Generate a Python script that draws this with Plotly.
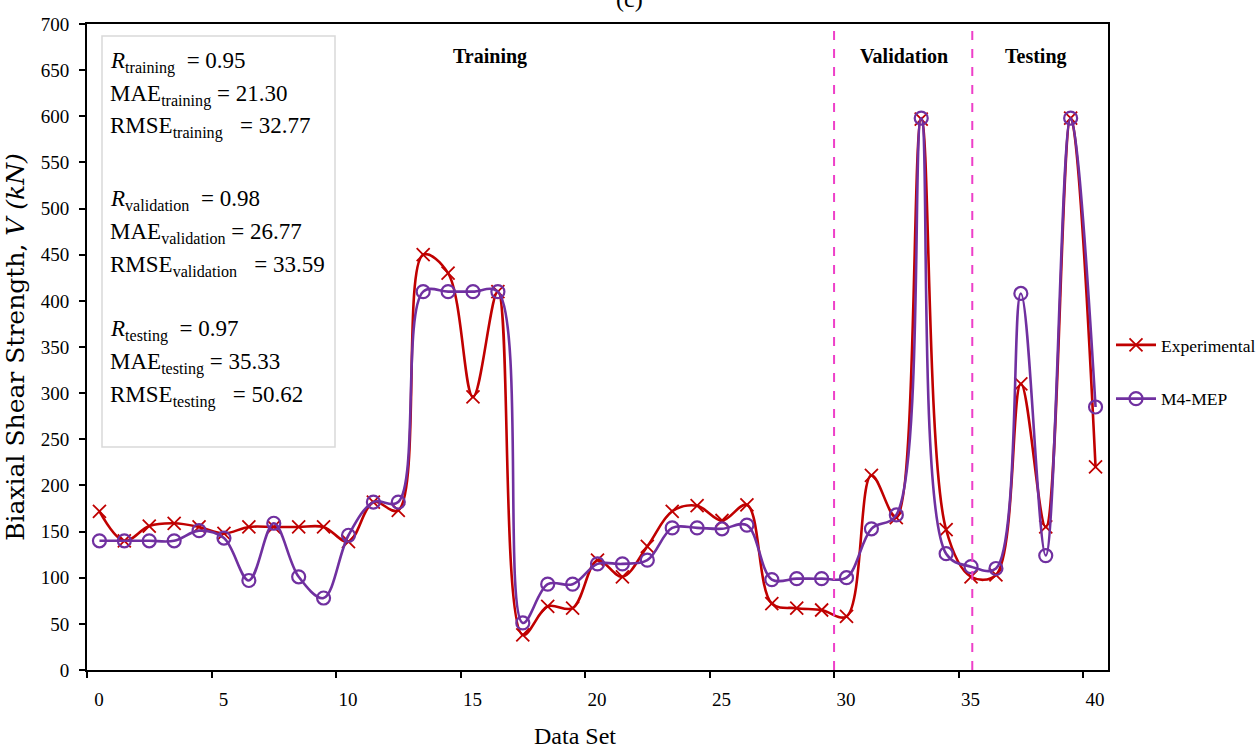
import plotly.graph_objects as go

# ---------------- data ----------------
data_set = list(range(41))
experimental = [172, 140, 156, 159, 155, 148, 155, 155, 155, 155,
                139, 182, 173, 450, 430, 296, 410, 38, 69, 67,
                119, 101, 134, 172, 178, 162, 179, 72, 67, 65,
                58, 211, 165, 597, 152, 101, 103, 310, 155, 598,
                220]
m4_mep = [140, 140, 140, 140, 151, 143, 97, 159, 101, 78,
          146, 182, 182, 410, 410, 410, 410, 51, 93, 93,
          115, 115, 119, 154, 154, 153, 157, 98, 99, 99,
          100, 153, 168, 598, 126, 112, 110, 408, 124, 598,
          285]
x_tick_values = [0, 5, 10, 15, 20, 25, 30, 35, 40]
x_tick_labels = [str(v) for v in x_tick_values]
section_bounds = [29.5, 35.05]
section_names = ["Training", "Validation", "Testing"]
section_label_x = [15.7, 32.3, 37.6]
stats_lines = [
    "<i>R</i><sub>training</sub>\u00a0 = 0.95",
    "MAE<sub>training</sub> = 21.30",
    "RMSE<sub>training</sub>\u00a0\u00a0 = 32.77",
    "<i>R</i><sub>validation</sub>\u00a0 = 0.98",
    "MAE<sub>validation</sub> = 26.77",
    "RMSE<sub>validation</sub>\u00a0\u00a0 = 33.59",
    "<i>R</i><sub>testing</sub>\u00a0 = 0.97",
    "MAE<sub>testing</sub> = 35.33",
    "RMSE<sub>testing</sub>\u00a0\u00a0 = 50.62",
]

SERIF = "Liberation Serif, Times New Roman, serif"
RED = "#C00000"
PURPLE = "#7030A0"
MAGENTA = "#EE3FC8"

W, H = 1256, 749
L, R, T, B = 87, 148, 24, 79
PW, PH = W - L - R, H - T - B

def px_x(p):
    return (p - L) / PW

def px_y(p):
    return (H - B - p) / PH

fig = go.Figure()
fig.add_trace(go.Scatter(
    x=data_set, y=experimental, name="Experimental", mode="lines+markers",
    line=dict(color=RED, width=2.6, shape="spline", smoothing=1.0),
    marker=dict(symbol="x-thin", size=13, color=RED, line=dict(color=RED, width=1.8)),
    legendgroup="a",
))
fig.add_trace(go.Scatter(
    x=data_set, y=m4_mep, name="M4-MEP", mode="lines+markers",
    line=dict(color=PURPLE, width=2.6, shape="spline", smoothing=1.0),
    marker=dict(symbol="circle-open", size=13, color=PURPLE, line=dict(color=PURPLE, width=2.2)),
    legendgroup="b",
))

shapes = []
for xb in section_bounds:
    shapes.append(dict(type="line", xref="x", yref="paper", x0=xb, x1=xb, y0=0, y1=1,
                       line=dict(color=MAGENTA, width=2, dash="dash")))
# stats box
shapes.append(dict(type="rect", xref="paper", yref="paper",
                   x0=px_x(102), x1=px_x(335), y0=px_y(447), y1=px_y(36),
                   line=dict(color="#D9D9D9", width=1.5), fillcolor="rgba(0,0,0,0)"))

annotations = []
for name, xl in zip(section_names, section_label_x):
    annotations.append(dict(text="<b>" + name + "</b>", x=xl, y=665, xref="x", yref="y",
                            yanchor="middle", showarrow=False,
                            font=dict(family=SERIF, size=20, color="black")))
line_px = [62, 95, 128, 200, 233, 266, 330, 363, 396]
for txt, yp in zip(stats_lines, line_px):
    annotations.append(dict(text=txt, x=px_x(108), y=px_y(yp), xref="paper", yref="paper",
                            xanchor="left", yanchor="middle", showarrow=False, align="left",
                            font=dict(family=SERIF, size=23, color="black")))
annotations.append(dict(text="Data Set", x=px_x(575), y=px_y(736), xref="paper", yref="paper",
                        yanchor="middle", showarrow=False,
                        font=dict(family=SERIF, size=24, color="black")))
annotations.append(dict(text="(c)", x=px_x(629), y=px_y(14), xref="paper", yref="paper",
                        yanchor="bottom", showarrow=False, font=dict(family=SERIF, size=24, color="black")))

fig.update_layout(
    width=W, height=H,
    margin=dict(l=L, r=R, t=T, b=B, autoexpand=False),
    paper_bgcolor="white", plot_bgcolor="white",
    showlegend=True,
    legend=dict(x=px_x(1111), xanchor="left", y=px_y(327), yanchor="top",
                font=dict(family=SERIF, size=17.5, color="black"),
                tracegroupgap=28, bgcolor="rgba(0,0,0,0)", itemwidth=40),
    xaxis=dict(range=[-0.5, 40.5], tickvals=[v - 0.5 for v in x_tick_values], ticktext=x_tick_labels,
               ticks="outside", ticklen=6, tickwidth=1.5, tickcolor="black",
               ticklabelshift=12, ticklabelstandoff=5,
               showline=True, linecolor="black", linewidth=1.8, mirror=True,
               showgrid=False, zeroline=False,
               tickfont=dict(family=SERIF, size=19, color="black")),
    yaxis=dict(range=[0, 700], dtick=50, tick0=0,
               ticks="outside", ticklen=6, tickwidth=1.5, tickcolor="black",
               ticklabelstandoff=6,
               showline=True, linecolor="black", linewidth=1.8, mirror=True,
               showgrid=False, zeroline=False,
               tickfont=dict(family=SERIF, size=19, color="black"),
               title=dict(text="Biaxial Shear Strength, <i>V (kN)</i>", standoff=9,
                          font=dict(family="DejaVu Serif, serif", size=25, color="black"))),
    shapes=shapes,
    annotations=annotations,
)

fig.write_html("out.html")
